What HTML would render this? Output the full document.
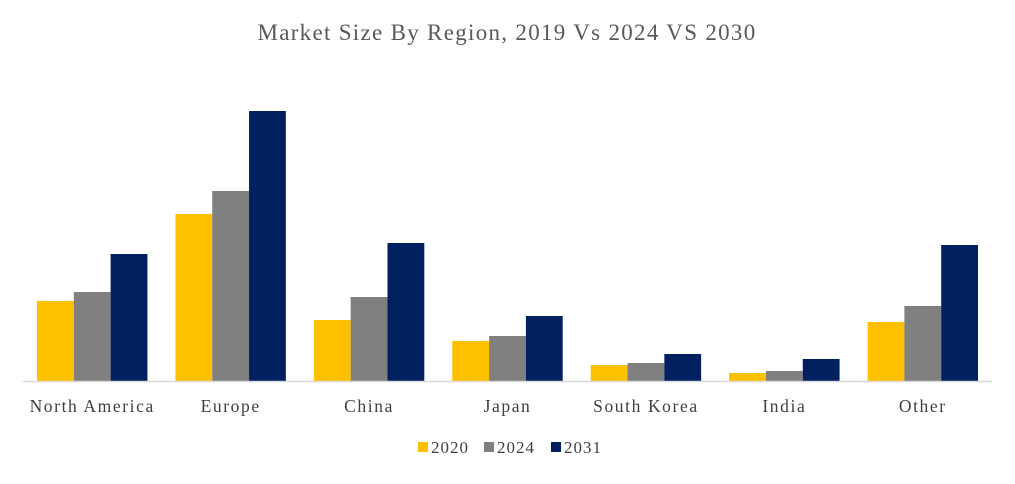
<!DOCTYPE html>
<html><head><meta charset="utf-8"><style>
body{margin:0;background:#fff;width:1015px;height:479px;overflow:hidden}
svg text{font-family:"Liberation Serif",serif}
</style></head><body>
<svg id="chart" width="1015" height="479" xmlns="http://www.w3.org/2000/svg">
<text x="507" y="40" text-anchor="middle" font-size="23" letter-spacing="1.3" fill="#595959">Market Size By Region, 2019 Vs 2024 VS 2030</text>
<g id="bars"></g>
<line x1="23" x2="992" y1="381.5" y2="381.5" stroke="#d9d9d9" stroke-width="1.5"/>
<g id="labels"></g>
<g id="legend"></g>
</svg>
<script>
const categories=["North America","Europe","China","Japan","South Korea","India","Other"];
const seriesNames=["2020","2024","2031"];
const s2020=[80,167,61,40,16,8,59];
const s2024=[89,190,84,45,18,10,75];
const s2031=[127,270,138,65,27,22,136];
const series=[s2020,s2024,s2031];
const colors=["#ffc000","#808080","#002060"];
const NS="http://www.w3.org/2000/svg";
const x0=23,x1=992,base=381,yScale=v=>base-v;
const band=(x1-x0)/categories.length,pad=14,bw=(band-2*pad)/3;
const bars=document.getElementById('bars'),labels=document.getElementById('labels'),legend=document.getElementById('legend');
categories.forEach((c,i)=>{
  series.forEach((s,j)=>{
    const r=document.createElementNS(NS,'rect');
    
    
    r.setAttribute('x',x0+i*band+pad+j*bw);r.setAttribute('width',bw);
    r.setAttribute('y',yScale(s[i]));r.setAttribute('height',base-yScale(s[i]));
    r.setAttribute('fill',colors[j]);bars.appendChild(r);
  });
  const t=document.createElementNS(NS,'text');
  
  
  t.setAttribute('x',x0+i*band+band/2);t.setAttribute('y',412);
  t.setAttribute('text-anchor','middle');t.setAttribute('font-size','17.5');t.setAttribute('letter-spacing','1.6');t.setAttribute('fill','#404040');
  t.textContent=c;labels.appendChild(t);
});
const lx=[418,484,551];
seriesNames.forEach((n,j)=>{
  const r=document.createElementNS(NS,'rect');
  
  
  r.setAttribute('x',lx[j]);r.setAttribute('y',442);r.setAttribute('width',10);r.setAttribute('height',10);
  r.setAttribute('fill',colors[j]);legend.appendChild(r);
  const t=document.createElementNS(NS,'text');
  
  
  t.setAttribute('x',lx[j]+13);t.setAttribute('y',453);t.setAttribute('font-size','17');t.setAttribute('letter-spacing','1');t.setAttribute('fill','#404040');
  t.textContent=n;legend.appendChild(t);
});
</script>
</body></html>
